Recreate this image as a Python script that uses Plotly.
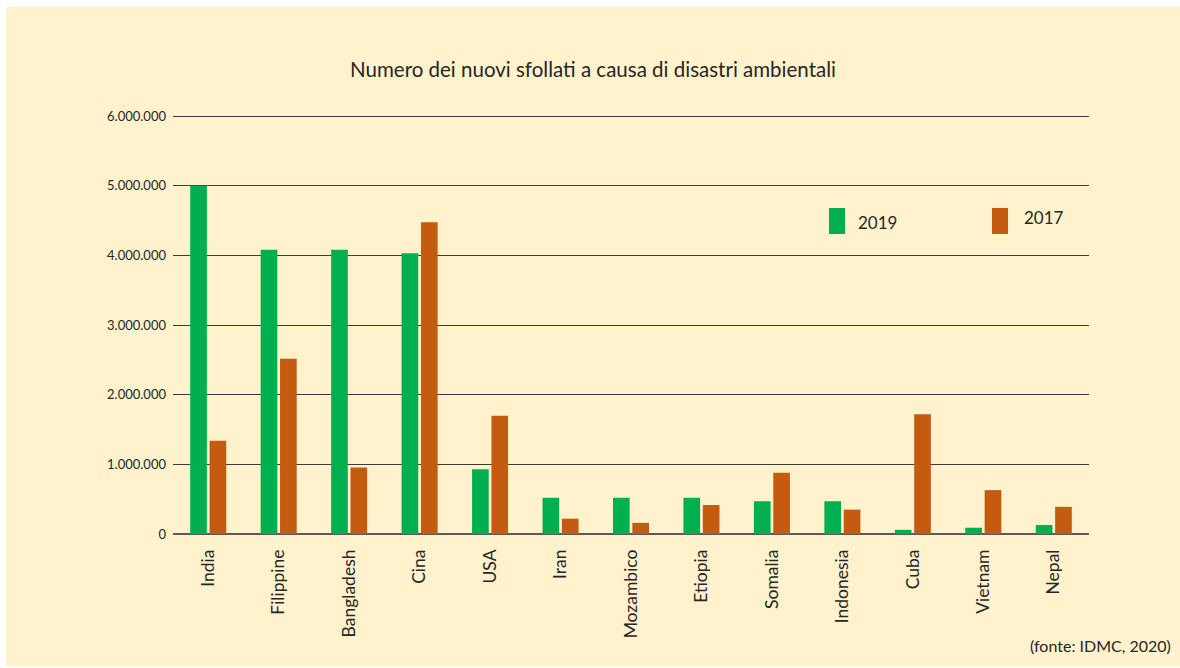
import plotly.graph_objects as go

countries = ["India", "Filippine", "Bangladesh", "Cina", "USA", "Iran", "Mozambico",
             "Etiopia", "Somalia", "Indonesia", "Cuba", "Vietnam", "Nepal"]
values_2019 = [5000000, 4080000, 4080000, 4030000, 930000, 520000, 520000,
               520000, 470000, 470000, 60000, 90000, 130000]
values_2017 = [1340000, 2515000, 956000, 4476000, 1697000, 220000, 160000,
               416000, 880000, 350000, 1720000, 630000, 390000]
y_ticks = [0, 1000000, 2000000, 3000000, 4000000, 5000000, 6000000]

GREEN = "#00B050"
ORANGE = "#C55A11"
PANEL = "#FFF2CC"
FONT = "Lato"
TXT = "#262626"

fig = go.Figure()
fig.add_trace(go.Bar(name="2019", x=countries, y=values_2019, marker_color=GREEN,
                     marker_line_width=0))
fig.add_trace(go.Bar(name="2017", x=countries, y=values_2017, marker_color=ORANGE,
                     marker_line_width=0))

W, H = 1180, 668
L, R, T, B = 173, 91, 114, 134
pw = W - L - R
ph = H - T - B

def px_x(v):
    return (v - L) / pw

def px_y(v):
    return (H - B - v) / ph

shapes = [
    dict(type="rect", xref="paper", yref="paper", layer="below",
         x0=px_x(6), x1=px_x(1182), y0=px_y(666), y1=px_y(7),
         fillcolor=PANEL, line_width=0),
    dict(type="rect", xref="paper", yref="paper",
         x0=px_x(829), x1=px_x(845), y0=px_y(234), y1=px_y(208),
         fillcolor=GREEN, line_width=0),
    dict(type="rect", xref="paper", yref="paper",
         x0=px_x(992), x1=px_x(1008), y0=px_y(234), y1=px_y(208),
         fillcolor=ORANGE, line_width=0),
]

annotations = [
    dict(text="2019", xref="paper", yref="paper", x=px_x(856), y=px_y(222),
         xanchor="left", yanchor="middle", showarrow=False,
         font=dict(family=FONT, size=17, color=TXT)),
    dict(text="2017", xref="paper", yref="paper", x=px_x(1022), y=px_y(217),
         xanchor="left", yanchor="middle", showarrow=False,
         font=dict(family=FONT, size=17, color=TXT)),
    dict(text="(fonte: IDMC, 2020)", xref="paper", yref="paper", x=px_x(1173), y=px_y(645),
         xanchor="right", yanchor="middle", showarrow=False,
         font=dict(family=FONT, size=16, color=TXT)),
]

fig.update_layout(
    width=W, height=H,
    margin=dict(l=L, r=R, t=T, b=B, pad=0),
    paper_bgcolor="white",
    plot_bgcolor="rgba(0,0,0,0)",
    separators=",.",
    barmode="group",
    bargap=0.45,
    bargroupgap=0.14,
    showlegend=False,
    title=dict(text="Numero dei nuovi sfollati a causa di disastri ambientali",
               x=593 / W, xanchor="center", y=1 - 70 / H, yanchor="middle",
               font=dict(family=FONT, size=20.5, color=TXT)),
    font=dict(family=FONT, color=TXT),
    shapes=shapes,
    annotations=annotations,
    xaxis=dict(tickangle=-90, tickfont=dict(family=FONT, size=17.5, color=TXT),
               showgrid=False, showline=False, ticks="", ticklabelstandoff=11),
    yaxis=dict(range=[0, 6030000], tickvals=y_ticks, tickformat=",d",
               tickfont=dict(family=FONT, size=13, color=TXT),
               showgrid=True, gridcolor="#3c3c3c", gridwidth=1.2,
               zeroline=True, zerolinecolor="#5a5a5a", zerolinewidth=1.5,
               showline=False, ticks="", ticklabelstandoff=6),
)

fig.write_html("out.html")
